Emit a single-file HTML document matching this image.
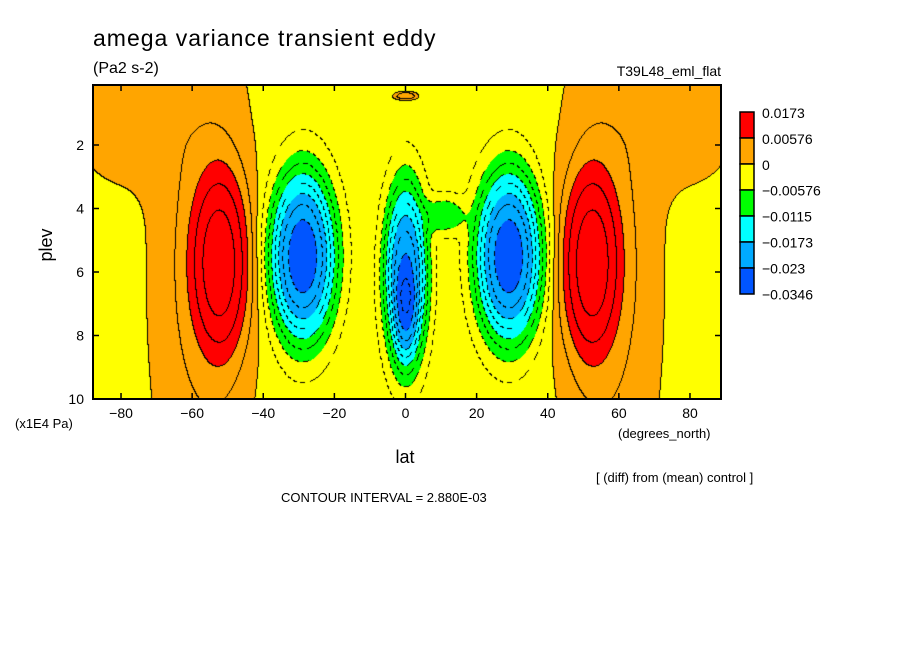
<!DOCTYPE html>
<html><head><meta charset="utf-8">
<style>
body{margin:0;background:#fff;width:904px;height:654px;overflow:hidden;position:relative;font-family:"Liberation Sans","DejaVu Sans",sans-serif}
canvas{position:absolute;left:93px;top:85px}
svg{position:absolute;left:0;top:0}
text{font-family:"Liberation Sans","DejaVu Sans",sans-serif;fill:#000}
</style></head><body>
<canvas id="cv" width="628" height="314"></canvas>
<svg id="sv" width="904" height="654">
<text x="93" y="46" font-size="23" letter-spacing="1">amega variance transient eddy</text>
<text x="93" y="73" font-size="16">(Pa2 s-2)</text>
<text x="721" y="76" font-size="14" text-anchor="end">T39L48_eml_flat</text>
<text x="52" y="245" font-size="18" transform="rotate(-90 52 245)" text-anchor="middle">plev</text>
<text x="405" y="463" font-size="18" text-anchor="middle">lat</text>
<text x="15" y="428" font-size="13">(x1E4 Pa)</text>
<text x="618" y="438" font-size="13">(degrees_north)</text>
<text x="596" y="482" font-size="13">[ (diff) from (mean) control ]</text>
<text x="281" y="502" font-size="13">CONTOUR INTERVAL = 2.880E-03</text>
<g id="axes"></g><g id="legend"></g>
</svg>
<script>
const xTicks=[-80,-60,-40,-20,0,20,40,60,80];
const yTicks=[2,4,6,8,10];
const levels=[-0.0346,-0.023,-0.0173,-0.0115,-0.00576,0,0.00576,0.0173];
const colors=['#0055ff','#00aaff','#00ffff','#00ff00','#ffff00','#ffa500','#ff0000'];
const blobLat=[-57,57,-80,80,-52,52,-29,29,0,0,11,0];
const blobP=[6,6,0.5,0.5,5.7,5.7,5.5,5.5,6.1,7.3,4.2,0.45];
const blobAmp=[0.0045,0.0045,0.0035,0.0035,0.0105,0.0105,-0.0235,-0.0235,-0.021,-0.005,-0.006,0.007];
const blobSLat=[12,12,12,12,6.8,6.8,7.4,7.4,4.8,2.5,4.5,2.5];
const blobSP=[7,7,2.2,2.2,2.4,2.4,2.15,2.15,2.3,1.2,0.5,0.1];
const baseVal=-0.0015, interval=0.00288;
const L=93,T=85,W=628,H=314;
const xs=lat=>405.5+lat*3.556;
const ys=p=>145+(p-2)*31.75;
const latOf=x=>(x-405.5)/3.556, pOf=y=>2+(y-145)/31.75;
function field(lat,p){let v=baseVal;for(let i=0;i<blobLat.length;i++){const dx=(lat-blobLat[i])/blobSLat[i],dp=(p-blobP[i])/blobSP[i];v+=blobAmp[i]*Math.exp(-0.5*Math.pow(dx*dx+dp*dp,1.4));}return v;}
const cv=document.getElementById('cv'),ctx=cv.getContext('2d'),img=ctx.createImageData(W,H);
const C=[],Ln=[];
function hex(c){return[parseInt(c.substr(1,2),16),parseInt(c.substr(3,2),16),parseInt(c.substr(5,2),16)];}
for(let y=0;y<H;y++)for(let x=0;x<W;x++){const v=field(latOf(x+L),pOf(y+T));let k=0;while(k<levels.length-2&&v>levels[k+1])k++;C.push(k);Ln.push(Math.floor(v/interval));}
for(let y=0;y<H;y++)for(let x=0;x<W;x++){const i=y*W+x;let c=hex(colors[C[i]]);
 const a=Ln[i],r=x<W-1?Ln[i+1]:a,d=y<H-1?Ln[i+W]:a;
 if(a!==r||a!==d){const lv=Math.max(a,r,d)*interval;const neg=lv<-1e-9;if(!neg||((x+y)%9)<5)c=[0,0,0];}
 img.data.set([c[0],c[1],c[2],255],i*4);}
ctx.putImageData(img,0,0);
const NS='http://www.w3.org/2000/svg',ax=document.getElementById('axes');
function el(t,a,p){const e=document.createElementNS(NS,t);for(const k in a)e.setAttribute(k,a[k]);p.appendChild(e);return e;}
const fr=el('rect',{x:L,y:T,width:W,height:H,fill:'none',stroke:'#000','stroke-width':2},ax);


xTicks.forEach(t=>{const x=xs(t);el('line',{x1:x,x2:x,y1:T+H,y2:T+H-6,stroke:'#000','stroke-width':1.5},ax);el('line',{x1:x,x2:x,y1:T,y2:T+6,stroke:'#000','stroke-width':1.5},ax);
 const tx=el('text',{x:x,y:T+H+19,'font-size':14,'text-anchor':'middle'},ax);tx.textContent=(t<0?'\u2212':'')+Math.abs(t);
 
 });
yTicks.forEach(t=>{const y=ys(t);el('line',{x1:L,x2:L+6,y1:y,y2:y,stroke:'#000','stroke-width':1.5},ax);el('line',{x1:L+W,x2:L+W-6,y1:y,y2:y,stroke:'#000','stroke-width':1.5},ax);
 const tx=el('text',{x:84,y:y+5,'font-size':14,'text-anchor':'end'},ax);tx.textContent=t;
 
 });
const lg=document.getElementById('legend');
const labels=['0.0173','0.00576','0','\u22120.00576','\u22120.0115','\u22120.0173','\u22120.023','\u22120.0346'];
for(let i=0;i<7;i++){const r=el('rect',{x:740,y:112+i*26,width:14,height:26,fill:colors[6-i],stroke:'#000','stroke-width':1.5},lg);
 
 }
labels.forEach((s,i)=>{const t=el('text',{x:762,y:118+i*25.9,'font-size':14},lg);t.textContent=s;
 
 });
</script>
</body></html>
